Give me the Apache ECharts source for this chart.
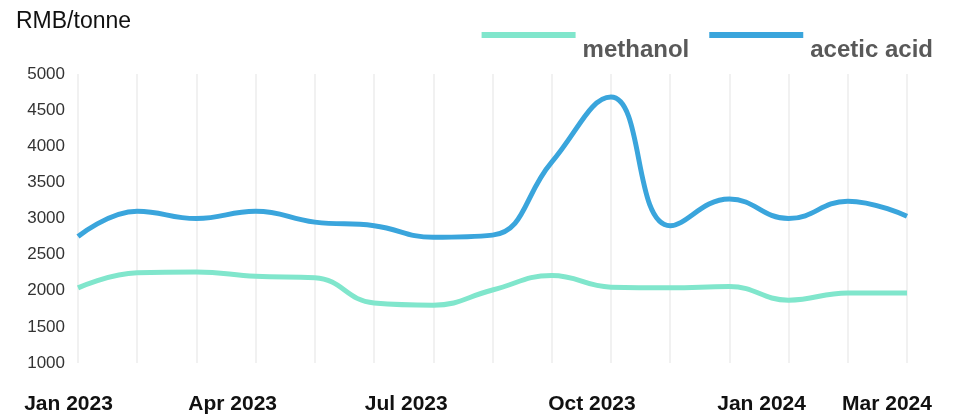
<!DOCTYPE html>
<html>
<head>
<meta charset="utf-8">
<script src="https://cdn.jsdelivr.net/npm/echarts@6/dist/echarts.min.js"></script>
<style>
html,body{margin:0;padding:0;background:#fff;}
#c{width:961px;height:417px;}
</style>
</head>
<body>
<div id="c"></div>
<script>
const categories = ['Jan 2023','Feb 2023','Mar 2023','Apr 2023','May 2023','Jun 2023','Jul 2023','Aug 2023','Sep 2023','Oct 2023','Nov 2023','Dec 2023','Jan 2024','Feb 2024','Mar 2024'];
const methanol = [2040, 2250, 2260, 2200, 2180, 1830, 1800, 2010, 2210, 2050, 2040, 2060, 1870, 1970, 1970];
const aceticAcid = [2750, 3100, 3000, 3100, 2950, 2900, 2740, 2770, 3780, 4680, 2900, 3270, 3000, 3240, 3030];
const shownLabels = ['Jan 2023','Apr 2023','Jul 2023','Oct 2023','Jan 2024','Mar 2024'];
const yTicks = {min: 1000, max: 5000, interval: 500};

const FONT = 'Liberation Sans, Arial, sans-serif';
const labelShift = [19, 46, 54, 38, 54, 40];
const rich = {};
labelShift.forEach(function (s, k) {
  rich['l' + k] = {fontFamily: FONT, fontSize: 21, fontWeight: 'bold', color: '#111', padding: [0, s, 0, 0]};
});

const chart = echarts.init(document.getElementById('c'));
chart.setOption({
  animation: false,
  title: {
    text: 'RMB/tonne', left: 11, top: 5,
    textStyle: {fontFamily: FONT, fontSize: 23, fontWeight: 'normal', color: '#111'}
  },
  legend: {
    top: 27, right: 23,
    itemWidth: 94, itemHeight: 6, itemGap: 20,
    icon: 'rect',
    formatter: '{t|{name}}',
    textStyle: {
      fontFamily: FONT, fontSize: 24, fontWeight: 'bold', color: '#595959',
      rich: {t: {fontFamily: FONT, fontSize: 24, fontWeight: 'bold', color: '#595959', padding: [30, 0, 0, 2]}}
    },
    data: ['methanol', 'acetic acid']
  },
  grid: {left: 78, right: 54, top: 74, bottom: 54},
  xAxis: {
    type: 'category', data: categories, boundaryGap: false,
    axisLine: {show: false}, axisTick: {show: false},
    axisLabel: {
      interval: function (i, v) { return shownLabels.indexOf(v) >= 0; },
      formatter: function (v) { return '{l' + shownLabels.indexOf(v) + '|' + v + '}'; },
      rich: rich,
      fontFamily: FONT, fontSize: 21, fontWeight: 'bold', color: '#111',
      margin: 31
    },
    splitLine: {show: true, interval: 0, lineStyle: {color: '#ededed', width: 1.5}}
  },
  yAxis: {
    type: 'value', min: yTicks.min, max: yTicks.max, interval: yTicks.interval,
    axisLine: {show: false}, axisTick: {show: false},
    splitLine: {show: false},
    axisLabel: {fontFamily: FONT, fontSize: 17, color: '#333', margin: 13,
      formatter: function (v) { return String(v); }}
  },
  series: [
    {name: 'methanol', type: 'line', data: methanol, smooth: 0.45, showSymbol: false,
     lineStyle: {width: 5, color: '#80E6CC'}, itemStyle: {color: '#80E6CC'}},
    {name: 'acetic acid', type: 'line', data: aceticAcid, smooth: 0.45, showSymbol: false,
     lineStyle: {width: 5, color: '#3AA5DC'}, itemStyle: {color: '#3AA5DC'}}
  ]
});
</script>
</body>
</html>
